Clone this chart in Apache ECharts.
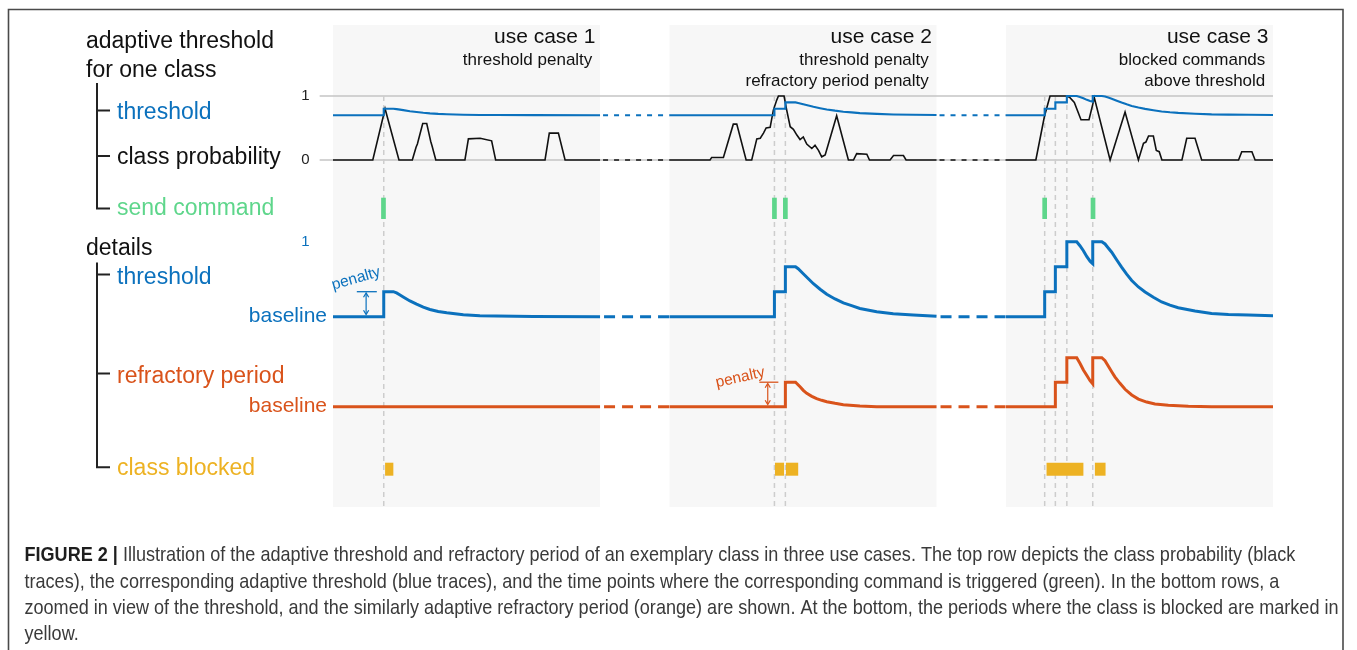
<!DOCTYPE html>
<html>
<head>
<meta charset="utf-8">
<script src="https://cdn.jsdelivr.net/npm/echarts@6/dist/echarts.min.js"></script>
<style>
  html, body { margin: 0; padding: 0; background: #fff; }
  #chart { width: 1357px; height: 650px; }
</style>
</head>
<body>
<div id="chart"></div>
<script>
// ---- data (time in samples, shared time axis for all rows) ----
const panelStart = [0, 126, 252];
const panelEnd = [100, 226, 352];
const panelTitles = ['use case 1', 'use case 2', 'use case 3'];
const panelNotes = [
  ['threshold penalty'],
  ['threshold penalty', 'refractory period penalty'],
  ['blocked commands', 'above threshold']
];

// class probability (0..1)
const probCase1 = [
  [0, 0], [14.9, 0], [19.5, 0.8], [24.7, 0],
  [29.7, 0], [31.1, 0.2], [31.6, 0.25], [33.6, 0.57], [35.1, 0.57], [35.9, 0.42], [36.6, 0.29], [37.1, 0.22], [38.5, 0],
  [49.4, 0], [50.7, 0.33], [51.0, 0.34], [55.1, 0.34], [55.7, 0.31], [59.4, 0.30], [60.9, 0],
  [79.4, 0], [81.0, 0.42], [84.4, 0.42], [86.9, 0], [100, 0]
];
const probCase2 = [
  [126, 0], [141.2, 0], [141.8, 0.04], [146.2, 0.04], [149.9, 0.56], [151.2, 0.56], [154.7, 0],
  [156.8, 0], [158.7, 0.33], [160.0, 0.34], [161.2, 0.42], [162.2, 0.5], [163.7, 0.51], [164.9, 0.78],
  [166.2, 0.94], [166.8, 1.0], [168.9, 1.0], [169.9, 0.78], [171.2, 0.52], [172.4, 0.48], [173.7, 0.39],
  [174.9, 0.32], [176.1, 0.36], [177.4, 0.25], [179.3, 0.18], [180.5, 0.23], [181.8, 0.15], [183.0, 0.05],
  [184.3, 0.08], [188.6, 0.69], [193.0, 0],
  [194.9, 0], [196.1, 0.1], [199.9, 0.09], [200.9, 0],
  [208.6, 0], [209.9, 0.07], [213.6, 0.07], [214.6, 0], [226, 0]
];
const probCase3 = [
  [252, 0], [263.2, 0], [266.4, 0.68], [268.5, 1.0], [274.5, 1.0], [275.8, 0.98], [277.6, 0.9],
  [280.1, 0.63], [283.1, 0.63], [285.1, 0.97], [291.0, 0], [296.6, 0.75], [301.6, 0],
  [303.5, 0.26], [304.4, 0.28], [305.4, 0.375], [307.2, 0.375], [308.3, 0.15], [309.4, 0.13], [310.4, 0],
  [317.9, 0], [319.7, 0.34], [322.8, 0.34], [325.3, 0],
  [339.1, 0], [340.3, 0.13], [344.1, 0.13], [345.3, 0], [352, 0]
];

// adaptive threshold
const thresholdBaseline = 0.7;
const thresholdPenalty = 0.1;
const thrCase1 = [
  [0, 0.7], [19, 0.7], [19, 0.8], [22.6, 0.8], [23.8, 0.795], [25.1, 0.787], [26.3, 0.779],
  [28.8, 0.763], [31.3, 0.75], [33.8, 0.738], [36.3, 0.729], [39.4, 0.721], [42.6, 0.716],
  [48.8, 0.708], [55.0, 0.704], [61.3, 0.703], [75, 0.701], [100, 0.7]
];
const thrCase2 = [
  [126, 0.7], [165.3, 0.7], [165.3, 0.8], [169.4, 0.8], [169.4, 0.9], [173.2, 0.9], [174.2, 0.892],
  [176.1, 0.872], [178.0, 0.852], [179.9, 0.832], [182.4, 0.81], [184.9, 0.79], [188.0, 0.771],
  [191.1, 0.755], [194.2, 0.744], [197.3, 0.733], [203.6, 0.72], [209.8, 0.712], [217.3, 0.707],
  [226, 0.702]
];
const thrCase3 = [
  [252, 0.7], [266.5, 0.7], [266.5, 0.8], [270.5, 0.8], [270.5, 0.9], [274.8, 0.9], [274.8, 1.0],
  [278.5, 1.0], [279.7, 0.984], [281.0, 0.964], [282.3, 0.94], [283.5, 0.922], [284.5, 0.912],
  [284.5, 1.0], [287.9, 1.0], [289.1, 0.991], [290.3, 0.975], [291.6, 0.958], [293.5, 0.927],
  [295.3, 0.898], [297.2, 0.87], [299.1, 0.845], [301.6, 0.819], [304.1, 0.799], [307.2, 0.778],
  [310.3, 0.759], [313.4, 0.746], [316.5, 0.736], [322.8, 0.723], [329.0, 0.713], [335.3, 0.709],
  [342.8, 0.707], [352, 0.704]
];

// refractory period (baseline = 1)
const refractoryBaseline = 1;
const refractoryPenalty = 1;
const refCase1 = [[0, 1], [100, 1]];
const refCase2 = [
  [126, 1], [169.4, 1], [169.4, 2], [173.2, 2], [173.9, 1.955], [174.9, 1.816], [176.1, 1.669],
  [177.4, 1.547], [179.3, 1.424], [181.1, 1.327], [183.0, 1.261], [184.9, 1.204], [188.0, 1.139],
  [191.1, 1.082], [197.3, 1.029], [203.6, 1.0], [226, 1]
];
const refCase3 = [
  [252, 1], [270.5, 1], [270.5, 2], [274.8, 2], [274.8, 3], [278.5, 3], [279.7, 2.77], [281.0, 2.5],
  [282.3, 2.27], [283.5, 2.06], [284.5, 1.93], [284.5, 3], [287.9, 3], [289.1, 2.88], [290.3, 2.66],
  [291.6, 2.43], [292.8, 2.22], [294.7, 1.955], [296.6, 1.71], [299.1, 1.48], [301.6, 1.31],
  [304.7, 1.19], [307.8, 1.11], [312.8, 1.06], [320.3, 1.02], [329.0, 1.0], [352, 1]
];

// threshold crossings, commands actually sent, blocked periods
const eventTimes = [19, 165.3, 169.4, 266.5, 270.5, 274.8, 284.5];
const commandTimes = [18.9, 165.3, 169.4, 266.5, 284.6];
const blockedPeriods = [[19.5, 22.6], [165.5, 168.9], [169.6, 174.2], [267.2, 281.0], [285.3, 289.3]];

// ---- styling ----
const FONT = '"Liberation Sans", Arial, Helvetica, sans-serif';
const BLUE = '#0b71bd';
const ORANGE = '#d9531b';
const YELLOW = '#edb223';
const GREEN = '#5ed68b';
const INK = '#111111';
const PANEL_BG = '#f7f7f7';

const probCases = [probCase1, probCase2, probCase3];
const thrCases = [thrCase1, thrCase2, thrCase3];
const refCases = [refCase1, refCase2, refCase3];
const gaps = panelEnd.slice(0, -1).map((e, i) => [e, panelStart[i + 1]]);

const GRID_LEFT = 319.65, GRID_RIGHT = 84;
const gridTops = [
  [25, 482],     // 0 panel backgrounds
  [96, 411],     // 1 event markers
  [96, 64],      // 2 class probability + threshold
  [197.7, 21.3], // 3 send command
  [241.7, 75],   // 4 threshold detail
  [357.7, 49],   // 5 refractory period
  [462.7, 13]    // 6 class blocked
];
const grid = gridTops.map(([top, height]) => ({ left: GRID_LEFT, right: GRID_RIGHT, top, height }));
const xAxis = gridTops.map((_, i) => ({ type: 'value', gridIndex: i, min: -5, max: 352, show: false }));

const hiddenY = (g) => ({ type: 'value', gridIndex: g, min: 0, max: 1, show: false });
const yAxis = [
  hiddenY(0),
  hiddenY(1),
  { type: 'value', gridIndex: 2, min: 0, max: 1, interval: 1, position: 'left',
    axisLine: { show: false }, axisTick: { show: false },
    splitLine: { show: true, lineStyle: { color: '#c4c4c4', width: 1.5 } },
    axisLabel: { color: '#222', fontSize: 15, fontFamily: FONT, margin: 10 } },
  hiddenY(3),
  { type: 'value', gridIndex: 4, min: 0.7, max: 1, position: 'left',
    axisLine: { show: false }, axisTick: { show: false }, splitLine: { show: false },
    axisLabel: { customValues: [1], formatter: v => Math.abs(v - 1) < 1e-9 ? '1' : '',
      color: BLUE, fontSize: 15, fontFamily: FONT, margin: 10 } },
  { type: 'value', gridIndex: 4, min: 0.7, max: 1, position: 'left', offset: -13.35,
    axisLine: { show: false }, axisTick: { show: false }, splitLine: { show: false },
    axisLabel: { customValues: [thresholdBaseline], formatter: v => Math.abs(v - thresholdBaseline) < 1e-9 ? 'baseline' : '',
      color: BLUE, fontSize: 21, fontFamily: FONT, margin: 6 } },
  { type: 'value', gridIndex: 5, min: 1, max: 3, position: 'left', offset: -13.35,
    axisLine: { show: false }, axisTick: { show: false }, splitLine: { show: false },
    axisLabel: { customValues: [refractoryBaseline], formatter: v => Math.abs(v - refractoryBaseline) < 1e-9 ? 'baseline' : '',
      color: ORANGE, fontSize: 21, fontFamily: FONT, margin: 6 } },
  hiddenY(6)
];

const lineBase = { type: 'line', symbol: 'none', showSymbol: false, clip: false, silent: true, animation: false };
const series = [];

// panel backgrounds with titles
series.push({
  type: 'custom', xAxisIndex: 0, yAxisIndex: 0, z: -1, silent: true, animation: false,
  encode: { x: [0, 1] },
  data: panelStart.map((s, i) => [s, panelEnd[i], i]),
  renderItem(params, api) {
    const i = api.value(2);
    const tl = api.coord([api.value(0), 1]);
    const br = api.coord([api.value(1), 0]);
    const children = [{
      type: 'rect', shape: { x: tl[0], y: tl[1], width: br[0] - tl[0], height: br[1] - tl[1] },
      style: { fill: PANEL_BG }
    }, {
      type: 'text', style: { text: panelTitles[i], x: br[0] - 4.5, y: tl[1] + 12, align: 'right',
        verticalAlign: 'middle', fill: INK, fontSize: 21, fontFamily: FONT }
    }];
    panelNotes[i].forEach((s, k) => children.push({
      type: 'text', style: { text: s, x: br[0] - 7.7, y: tl[1] + 35.8 + 21 * k, align: 'right',
        verticalAlign: 'middle', fill: INK, fontSize: 17, fontFamily: FONT }
    }));
    return { type: 'group', children };
  }
});

// dashed markers at threshold crossings
series.push({
  type: 'custom', xAxisIndex: 1, yAxisIndex: 1, z: 1, silent: true, animation: false,
  data: eventTimes.map(t => [t, 0]),
  renderItem(params, api) {
    const a = api.coord([api.value(0), 1]);
    const b = api.coord([api.value(0), 0]);
    return { type: 'line', shape: { x1: a[0], y1: a[1], x2: b[0], y2: b[1] },
      style: { stroke: '#cdcdcd', lineWidth: 1.5, lineDash: [5, 4] } };
  }
});

// panels: probability, threshold (top + detail), refractory period
for (let i = 0; i < 3; i++) {
  series.push(Object.assign({}, lineBase, { xAxisIndex: 2, yAxisIndex: 2, z: 3, data: probCases[i],
    lineStyle: { color: INK, width: 1.6, join: 'miter' } }));
  series.push(Object.assign({}, lineBase, { xAxisIndex: 2, yAxisIndex: 2, z: 4, data: thrCases[i],
    lineStyle: { color: BLUE, width: 2.1, join: 'miter' } }));
  series.push(Object.assign({}, lineBase, { xAxisIndex: 4, yAxisIndex: 4, data: thrCases[i],
    lineStyle: { color: BLUE, width: 3, join: 'miter' } }));
  series.push(Object.assign({}, lineBase, { xAxisIndex: 5, yAxisIndex: 6, data: refCases[i],
    lineStyle: { color: ORANGE, width: 3, join: 'miter' } }));
}

// dashed continuation between panels
gaps.forEach(([a, b]) => {
  series.push(Object.assign({}, lineBase, { xAxisIndex: 2, yAxisIndex: 2, z: 3, data: [[a, 0], [b, 0]],
    lineStyle: { color: INK, width: 1.6, type: [5, 6], dashOffset: 8 } }));
  series.push(Object.assign({}, lineBase, { xAxisIndex: 2, yAxisIndex: 2, z: 4,
    data: [[a, thresholdBaseline], [b, thresholdBaseline]],
    lineStyle: { color: BLUE, width: 2.1, type: [5, 6], dashOffset: 8 } }));
  series.push(Object.assign({}, lineBase, { xAxisIndex: 4, yAxisIndex: 4,
    data: [[a, thresholdBaseline], [b, thresholdBaseline]],
    lineStyle: { color: BLUE, width: 3, type: [11, 7], dashOffset: 14 } }));
  series.push(Object.assign({}, lineBase, { xAxisIndex: 5, yAxisIndex: 6,
    data: [[a, refractoryBaseline], [b, refractoryBaseline]],
    lineStyle: { color: ORANGE, width: 3, type: [11, 7], dashOffset: 14 } }));
});

// sent commands
series.push({
  type: 'custom', xAxisIndex: 3, yAxisIndex: 3, silent: true, animation: false,
  data: commandTimes.map(t => [t, 1]),
  renderItem(params, api) {
    const a = api.coord([api.value(0), 1]);
    const b = api.coord([api.value(0), 0]);
    return { type: 'rect', shape: { x: a[0] - 2.35, y: a[1], width: 4.7, height: b[1] - a[1] },
      style: { fill: GREEN } };
  }
});

// blocked periods
series.push({
  type: 'custom', xAxisIndex: 6, yAxisIndex: 7, silent: true, animation: false,
  encode: { x: [0, 1] },
  data: blockedPeriods,
  renderItem(params, api) {
    const a = api.coord([api.value(0), 1]);
    const b = api.coord([api.value(1), 0]);
    return { type: 'rect', shape: { x: a[0], y: a[1], width: b[0] - a[0], height: b[1] - a[1] },
      style: { fill: YELLOW } };
  }
});

// penalty annotations (double arrow from baseline to baseline + penalty)
function penaltyNote(xIdx, yIdx, t, base, pen, color, cfg) {
  return {
    type: 'custom', xAxisIndex: xIdx, yAxisIndex: yIdx, silent: true, animation: false, z: 5,
    data: [[t, base, pen]],
    renderItem(params, api) {
      const lo = api.coord([api.value(0), api.value(1)]);
      const hi = api.coord([api.value(0), api.value(1) + api.value(2)]);
      const x = lo[0], h = 4.5, w = 2.6;
      return { type: 'group', children: [
        { type: 'line', shape: { x1: x - cfg.tickLeft, y1: hi[1], x2: x + cfg.tickRight, y2: hi[1] },
          style: { stroke: color, lineWidth: 1.3 } },
        { type: 'line', shape: { x1: x, y1: hi[1] + 2, x2: x, y2: lo[1] - 3 },
          style: { stroke: color, lineWidth: 1.2 } },
        { type: 'polyline', shape: { points: [[x - w, hi[1] + 1 + h], [x, hi[1] + 1.2], [x + w, hi[1] + 1 + h]] },
          style: { stroke: color, lineWidth: 1.2, fill: null } },
        { type: 'polyline', shape: { points: [[x - w, lo[1] - 2 - h], [x, lo[1] - 2.2], [x + w, lo[1] - 2 - h]] },
          style: { stroke: color, lineWidth: 1.2, fill: null } },
        { type: 'text', x: x + cfg.dx, y: hi[1] + cfg.dy, rotation: cfg.rotation,
          style: { text: 'penalty', align: 'center', verticalAlign: 'middle', fill: color,
            fontSize: 15.5, fontFamily: FONT } }
      ] };
    }
  };
}
series.push(penaltyNote(4, 4, 12.4, thresholdBaseline, thresholdPenalty, BLUE,
  { tickLeft: 9.3, tickRight: 10.7, dx: -10, dy: -13, rotation: 0.28 }));
series.push(penaltyNote(5, 6, 162.8, refractoryBaseline, refractoryPenalty, ORANGE,
  { tickLeft: 8.4, tickRight: 10.6, dx: -27.5, dy: -4.5, rotation: 0.22 }));

// ---- left-hand legend tree ----
const leftLabels = [
  ['adaptive threshold', 86, 41.5, INK],
  ['for one class', 86, 70.5, INK],
  ['threshold', 117, 112.5, BLUE],
  ['class probability', 117, 158, INK],
  ['send command', 117, 209, GREEN],
  ['details', 86, 249, INK],
  ['threshold', 117, 278, BLUE],
  ['refractory period', 117, 377, ORANGE],
  ['class blocked', 117, 468.5, YELLOW]
];
const graphic = leftLabels.map(([text, x, y, fill]) => ({
  type: 'text', x, y, silent: true,
  style: { text, fill, fontSize: 23, fontFamily: FONT, verticalAlign: 'middle', align: 'left' }
}));
const treeStroke = { stroke: '#222', lineWidth: 2, fill: null };
const trees = [
  { top: 83, ticks: [110.5, 156], end: 208.5 },
  { top: 262.5, ticks: [274.5, 373.5], end: 467.3 }
];
trees.forEach(tr => {
  graphic.push({ type: 'polyline', silent: true, shape: { points: [[97, tr.top], [97, tr.end], [110, tr.end]] }, style: treeStroke });
  tr.ticks.forEach(y => graphic.push({ type: 'line', silent: true, shape: { x1: 97, y1: y, x2: 110, y2: y }, style: treeStroke }));
});

// ---- frame and caption ----
graphic.push({ type: 'rect', silent: true, shape: { x: 8.5, y: 9.5, width: 1334.5, height: 700 },
  style: { fill: null, stroke: '#4a4a4a', lineWidth: 1.6 } });

const captionLines = [
  '{b|FIGURE 2 |} Illustration of the adaptive threshold and refractory period of an exemplary class in three use cases. The top row depicts the class probability (black',
  'traces), the corresponding adaptive threshold (blue traces), and the time points where the corresponding command is triggered (green). In the bottom rows, a',
  'zoomed in view of the threshold, and the similarly adaptive refractory period (orange) are shown. At the bottom, the periods where the class is blocked are marked in',
  'yellow.'
];
const CAP_SIZE = 21;
const measureCtx = document.createElement('canvas').getContext('2d');
measureCtx.font = CAP_SIZE + 'px ' + FONT;
const capScale = 1314 / measureCtx.measureText(captionLines[2]).width;
captionLines.forEach((line, k) => graphic.push({
  type: 'text', silent: true, x: 24.5, y: 555.7 + 26.3 * k, scaleX: capScale,
  style: { text: line, x: 0, y: 0, fill: '#3a3a3a', fontSize: CAP_SIZE, fontFamily: FONT,
    verticalAlign: 'middle', align: 'left',
    rich: { b: { fontWeight: 'bold', fill: '#1e1e1e', fontSize: CAP_SIZE, fontFamily: FONT } } }
}));

const chart = echarts.init(document.getElementById('chart'), null, { renderer: 'canvas' });
chart.setOption({
  backgroundColor: '#ffffff',
  animation: false,
  grid, xAxis, yAxis, series, graphic
});
</script>
</body>
</html>
